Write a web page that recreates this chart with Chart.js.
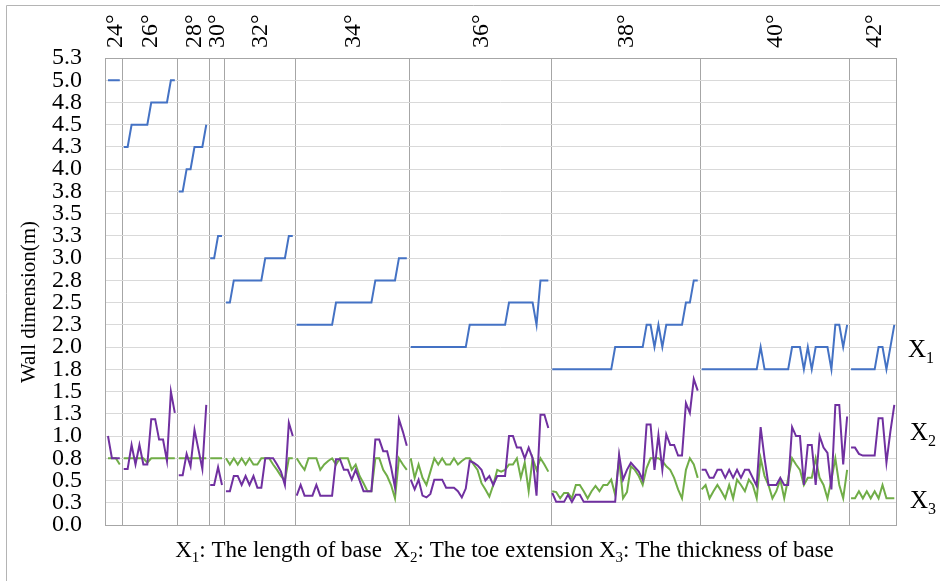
<!DOCTYPE html>
<html><head><meta charset="utf-8">
<script src="https://cdn.jsdelivr.net/npm/chart.js@4.4.1/dist/chart.umd.min.js"></script>
<style>html,body{margin:0;padding:0;background:#fff;}#wrap{width:940px;height:581px;position:relative;}</style>
</head><body><div id="wrap"><canvas id="c" width="940" height="581"></canvas></div>
<script>
// ---- data ----
const angles = ['24°','26°','28°','30°','32°','34°','36°','38°','40°','42°'];
const groupSizes = [4, 14, 8, 4, 18, 29, 36, 38, 38, 12];
const yTickStep = 0.25;
const yMax = 5.25;
const seriesNames = ['X1', 'X2', 'X3'];

// X1: The length of base
const x1Values = [
  5,5,5,5,
  4.25,4.25,4.5,4.5,4.5,4.5,4.5,4.75,4.75,4.75,4.75,4.75,5,5,
  3.75,3.75,4,4,4.25,4.25,4.25,4.5,
  3,3,3.25,3.25,
  2.5,2.5,2.75,2.75,2.75,2.75,2.75,2.75,2.75,2.75,3,3,3,3,3,3,3.25,3.25,
  2.25,2.25,2.25,2.25,2.25,2.25,2.25,2.25,2.25,2.25,2.5,2.5,2.5,2.5,2.5,2.5,2.5,2.5,2.5,2.5,2.75,2.75,2.75,2.75,2.75,2.75,3,3,3,
  2,2,2,2,2,2,2,2,2,2,2,2,2,2,2,2.25,2.25,2.25,2.25,2.25,2.25,2.25,2.25,2.25,2.25,2.5,2.5,2.5,2.5,2.5,2.5,2.5,2.25,2.75,2.75,2.75,
  1.75,1.75,1.75,1.75,1.75,1.75,1.75,1.75,1.75,1.75,1.75,1.75,1.75,1.75,1.75,1.75,2,2,2,2,2,2,2,2,2.25,2.25,2,2.25,2,2.25,2.25,2.25,2.25,2.25,2.5,2.5,2.75,2.75,
  1.75,1.75,1.75,1.75,1.75,1.75,1.75,1.75,1.75,1.75,1.75,1.75,1.75,1.75,1.75,2,1.75,1.75,1.75,1.75,1.75,1.75,1.75,2,2,2,1.75,2,1.75,2,2,2,2,1.75,2.25,2.25,2,2.25,
  1.75,1.75,1.75,1.75,1.75,1.75,1.75,2,2,1.75,2,2.25
];
// X2: The toe extension
const x2Values = [
  1.0,0.75,0.75,0.75,
  0.63,0.63,0.9,0.68,0.9,0.68,0.68,1.19,1.19,0.96,0.96,0.72,1.5,1.26,
  0.56,0.56,0.8,0.66,1.07,0.85,0.63,1.35,
  0.45,0.45,0.65,0.45,
  0.38,0.38,0.55,0.55,0.45,0.55,0.45,0.55,0.42,0.42,0.75,0.75,0.75,0.68,0.6,0.45,1.15,1.0,
  0.33,0.45,0.33,0.33,0.33,0.45,0.33,0.33,0.33,0.33,0.74,0.74,0.62,0.62,0.51,0.62,0.5,0.38,0.38,0.38,0.96,0.96,0.83,0.83,0.65,0.42,1.19,1.05,0.89,
  0.51,0.4,0.51,0.33,0.31,0.35,0.51,0.51,0.51,0.42,0.42,0.42,0.38,0.31,0.41,0.72,0.7,0.67,0.62,0.5,0.55,0.45,0.55,0.55,0.55,1.0,1.0,0.87,0.87,0.75,0.87,0.75,0.33,1.24,1.24,1.09,
  0.36,0.26,0.26,0.26,0.34,0.26,0.34,0.34,0.26,0.26,0.26,0.26,0.26,0.26,0.26,0.26,0.26,0.79,0.51,0.62,0.7,0.65,0.6,0.51,1.13,1.13,0.62,1.01,0.62,1.02,0.9,0.9,0.78,0.78,1.37,1.26,1.64,1.51,
  0.62,0.62,0.53,0.53,0.62,0.62,0.53,0.62,0.53,0.62,0.53,0.62,0.62,0.53,0.44,1.1,0.75,0.45,0.45,0.45,0.53,0.45,0.45,1.1,1.0,1.0,0.45,0.9,0.9,0.45,1.0,0.87,0.81,0.4,1.35,1.35,0.68,1.22,
  0.87,0.87,0.8,0.78,0.78,0.78,0.78,1.2,1.2,0.7,1.05,1.35
];
// X3: The thickness of base
const x3Values = [
  0.75,0.75,0.75,0.68,
  0.75,0.75,0.75,0.75,0.75,0.75,0.7,0.75,0.75,0.75,0.75,0.75,0.75,0.75,
  0.75,0.75,0.75,0.75,0.75,0.75,0.75,0.75,
  0.75,0.75,0.75,0.75,
  0.75,0.68,0.75,0.68,0.75,0.68,0.75,0.68,0.68,0.75,0.75,0.75,0.68,0.62,0.55,0.5,0.75,0.75,
  0.75,0.68,0.62,0.75,0.75,0.75,0.62,0.68,0.72,0.75,0.68,0.75,0.75,0.75,0.62,0.68,0.55,0.47,0.38,0.38,0.75,0.75,0.62,0.55,0.45,0.3,0.75,0.68,0.62,
  0.75,0.53,0.68,0.53,0.45,0.6,0.75,0.68,0.75,0.68,0.68,0.75,0.68,0.72,0.75,0.75,0.68,0.62,0.47,0.4,0.32,0.45,0.62,0.6,0.62,0.68,0.68,0.75,0.53,0.7,0.38,0.75,0.62,0.75,0.68,0.6,
  0.38,0.37,0.3,0.36,0.36,0.3,0.45,0.45,0.38,0.3,0.38,0.44,0.38,0.45,0.45,0.51,0.34,0.75,0.3,0.37,0.66,0.62,0.55,0.45,0.64,0.75,0.75,0.75,0.72,0.66,0.62,0.53,0.4,0.3,0.62,0.75,0.68,0.53,
  0.4,0.45,0.3,0.38,0.45,0.38,0.3,0.45,0.3,0.51,0.45,0.38,0.51,0.45,0.3,0.75,0.55,0.45,0.3,0.38,0.51,0.3,0.52,0.75,0.68,0.62,0.45,0.53,0.53,0.75,0.53,0.45,0.3,0.51,0.75,0.45,0.3,0.62,
  0.3,0.3,0.38,0.3,0.38,0.3,0.38,0.3,0.45,0.3,0.3,0.3
];

// ---- derived structure ----
const groupStarts = [];
(function(){ let s = 0; groupSizes.forEach(n => { groupStarts.push(s); s += n; }); })();
const totalPoints = groupSizes.reduce((a, b) => a + b, 0);
const boundaries = groupStarts.slice(1).map(s => s - 0.3);
const groupCenters = groupStarts.map((s, i) => s + (groupSizes[i] - 1) / 2);

function buildSeries(values) {
  const out = [];
  let idx = 0;
  groupSizes.forEach((n, g) => {
    if (g > 0) out.push({ x: idx - 0.5, y: null });
    for (let j = 0; j < n; j++) { out.push({ x: idx, y: values[idx] }); idx++; }
  });
  return out;
}

const SERIF = '"Liberation Serif", "Times New Roman", serif';

function drawXSub(ctx, x, y, digit, size, subSize, drop) {
  ctx.font = size + 'px ' + SERIF;
  ctx.fillText('X', x, y);
  const w = ctx.measureText('X').width;
  ctx.font = subSize + 'px ' + SERIF;
  ctx.fillText(digit, x + w, y + drop);
  return w + ctx.measureText(digit).width;
}

const decor = {
  id: 'decor',
  afterDraw(chart) {
    const ctx = chart.ctx;
    const a = chart.chartArea;
    const xs = chart.scales.x;
    ctx.save();
    // plot border
    ctx.strokeStyle = '#a6a6a6';
    ctx.lineWidth = 1;
    ctx.strokeRect(Math.round(a.left) + 0.5, Math.round(a.top) + 0.5, Math.round(a.right - a.left), Math.round(a.bottom - a.top));
    // outer frame (top and left)
    ctx.strokeStyle = '#b4b4b4';
    ctx.beginPath();
    ctx.moveTo(6.5, 581); ctx.lineTo(6.5, 5.5); ctx.lineTo(940, 5.5);
    ctx.stroke();
    ctx.fillStyle = '#000';
    // y title
    ctx.save();
    ctx.translate(35, 302);
    ctx.rotate(-Math.PI / 2);
    ctx.font = '21px ' + SERIF;
    ctx.textAlign = 'center';
    ctx.textBaseline = 'alphabetic';
    ctx.fillText('Wall dimension(m)', 0, 0);
    ctx.restore();
    // top angle labels (glyphs centred on the group centre)
    ctx.font = '24px ' + SERIF;
    ctx.textAlign = 'left';
    ctx.textBaseline = 'alphabetic';
    angles.forEach((lab, i) => {
      const px = xs.getPixelForValue(groupCenters[i]);
      ctx.save();
      ctx.translate(px, a.top - 10);
      ctx.rotate(-Math.PI / 2);
      ctx.fillText(lab, 0, 8);
      ctx.restore();
    });
    // right series labels
    ctx.textAlign = 'left';
    ctx.textBaseline = 'alphabetic';
    drawXSub(ctx, 908, 357, '1', 25, 16, 6);
    drawXSub(ctx, 910, 440, '2', 25, 16, 6);
    drawXSub(ctx, 910, 508, '3', 25, 16, 6);
    // caption
    const segs = [['X'], ['1', 1], [': The length of base  '], ['X'], ['2', 1], [': The toe extension '], ['X'], ['3', 1], [': The thickness of base']];
    const fs = 23, sfs = 15;
    let total = 0;
    segs.forEach(s => { ctx.font = (s[1] ? sfs : fs) + 'px ' + SERIF; total += ctx.measureText(s[0]).width; });
    let cx = 504.5 - total / 2;
    segs.forEach(s => {
      ctx.font = (s[1] ? sfs : fs) + 'px ' + SERIF;
      ctx.fillText(s[0], cx, 557 + (s[1] ? 5 : 0));
      cx += ctx.measureText(s[0]).width;
    });
    ctx.restore();
  }
};

const colors = { X1: '#4472C4', X2: '#7030A0', X3: '#70AD47' };
const lineDs = (name, values, order) => ({
  label: name,
  data: buildSeries(values),
  borderColor: colors[name],
  backgroundColor: colors[name],
  borderWidth: 2,
  pointRadius: 0,
  tension: 0,
  spanGaps: false,
  order: order
});

new Chart(document.getElementById('c'), {
  type: 'line',
  data: {
    datasets: [
      lineDs(seriesNames[0], x1Values, 3),
      lineDs(seriesNames[2], x3Values, 2),
      lineDs(seriesNames[1], x2Values, 1)
    ]
  },
  options: {
    responsive: false,
    animation: false,
    devicePixelRatio: 1,
    layout: { padding: { left: 0, right: 44, top: 58, bottom: 0 } },
    plugins: { legend: { display: false }, tooltip: { enabled: false } },
    scales: {
      x: {
        type: 'linear',
        min: -0.76,
        max: totalPoints - 1 + 0.43,
        border: { display: false },
        grid: { color: '#a6a6a6', lineWidth: 1, drawTicks: false },
        ticks: { display: false },
        afterBuildTicks: s => { s.ticks = boundaries.map(v => ({ value: v })); },
        afterFit: s => { s.height = 56; }
      },
      y: {
        min: 0,
        max: yMax,
        border: { display: false },
        grid: { color: '#d9d9d9', lineWidth: 1, drawTicks: false },
        ticks: {
          stepSize: yTickStep,
          autoSkip: false,
          padding: 23,
          color: '#000',
          font: { family: SERIF, size: 24 },
          callback: v => Number(v).toFixed(1)
        },
        afterFit: s => { s.width = 105; }
      }
    }
  },
  plugins: [decor]
});
</script>
</body></html>
